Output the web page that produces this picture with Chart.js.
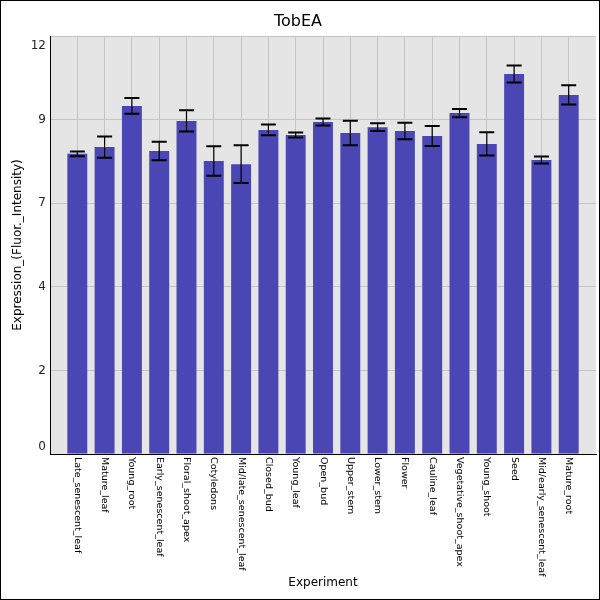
<!DOCTYPE html>
<html>
<head>
<meta charset="utf-8">
<script src="https://cdn.jsdelivr.net/npm/chart.js"></script>
<style>
  body { margin: 0; background: #fff; }
  #wrap { width: 600px; height: 600px; }
</style>
</head>
<body>
<div id="wrap"><canvas id="chartTob" width="600" height="600"></canvas></div>
<script>
// values
const categories = ['Late_senescent_leaf', 'Mature_leaf', 'Young_root', 'Early_senescent_leaf',
    'Floral_shoot_apex', 'Cotyledons', 'Mid/late_senescent_leaf', 'Closed_bud', 'Young_leaf',
    'Open_bud', 'Upper_stem', 'Lower_stem', 'Flower', 'Cauline_leaf', 'Vegetative_shoot_apex',
    'Young_shoot', 'Seed', 'Mid/early_senescent_leaf', 'Mature_root'];
const values = [8.76, 8.96, 10.16, 8.84, 9.72, 8.55, 8.46, 9.46, 9.31, 9.69,
    9.37, 9.54, 9.43, 9.28, 9.95, 9.05, 11.09, 8.58, 10.48];
const errors = [0.07, 0.31, 0.23, 0.27, 0.31, 0.43, 0.55, 0.16, 0.07, 0.10,
    0.36, 0.11, 0.24, 0.29, 0.12, 0.34, 0.25, 0.10, 0.28];
const tickValues = [0, 2.44, 4.88, 7.32, 9.76, 12.2];
const tickLabels = ['0', '2', '4', '7', '9', '12'];

const FONT = '"DejaVu Sans", sans-serif';

// plot background + outer frame
const backdrop = {
    id: 'backdrop',
    beforeDraw(chart) {
        const ctx = chart.ctx, a = chart.chartArea;
        ctx.save();
        ctx.fillStyle = '#ffffff';
        ctx.fillRect(0, 0, chart.width, chart.height);
        ctx.fillStyle = '#e5e5e5';
        ctx.fillRect(a.left, a.top, a.right - a.left, a.bottom - a.top);
        ctx.restore();
    },
    afterDraw(chart) {
        const ctx = chart.ctx;
        ctx.save();
        ctx.strokeStyle = '#000';
        ctx.lineWidth = 1;
        ctx.strokeRect(0.5, 0.5, chart.width - 1, chart.height - 1);
        ctx.restore();
    }
};

const errorBars = {
    id: 'errorBars',
    afterDatasetsDraw(chart) {
        const ctx = chart.ctx, xs = chart.scales.x, ys = chart.scales.y;
        ctx.save();
        ctx.strokeStyle = '#000';
        values.forEach((v, i) => {
            const px = xs.getPixelForValue(i + 1);
            const hi = ys.getPixelForValue(v + errors[i]);
            const lo = ys.getPixelForValue(v - errors[i]);
            ctx.lineWidth = 1.2;
            ctx.beginPath();
            ctx.moveTo(px, hi);
            ctx.lineTo(px, lo);
            ctx.stroke();
            ctx.lineWidth = 2;
            ctx.beginPath();
            ctx.moveTo(px - 7.5, hi);
            ctx.lineTo(px + 7.5, hi);
            ctx.moveTo(px - 7.5, lo);
            ctx.lineTo(px + 7.5, lo);
            ctx.stroke();
        });
        ctx.restore();
    }
};

// tick labels: x rotated clockwise, y kept inside the plot height
const tickText = {
    id: 'tickText',
    afterDraw(chart) {
        const ctx = chart.ctx, xs = chart.scales.x, ys = chart.scales.y, a = chart.chartArea;
        ctx.save();
        ctx.fillStyle = '#000';
        ctx.font = '9.5px ' + FONT;
        ctx.textAlign = 'left';
        ctx.textBaseline = 'middle';
        categories.forEach((c, i) => {
            ctx.save();
            ctx.translate(xs.getPixelForValue(i + 1), a.bottom + 3);
            ctx.rotate(Math.PI / 2);
            ctx.fillText(c, 0, 0);
            ctx.restore();
        });
        ctx.fillStyle = '#222';
        ctx.font = '12px ' + FONT;
        ctx.textAlign = 'right';
        tickValues.forEach((v, i) => {
            let py = ys.getPixelForValue(v);
            py = Math.min(Math.max(py, a.top + 10), a.bottom - 7);
            ctx.fillText(tickLabels[i], a.left - 4, py);
        });
        ctx.restore();
    }
};

Chart.defaults.font.family = FONT;
Chart.defaults.color = '#222';

const ctxTob = document.getElementById('chartTob');
const chartTob = new Chart(ctxTob, {
    type: 'bar',
    data: {
        datasets: [{
            label: 'TobEA',
            data: values.map((v, i) => ({ x: i + 1, y: v })),
            backgroundColor: '#4a46b3',
            borderWidth: 0,
            barPercentage: 0.73,
            categoryPercentage: 1
        }]
    },
    plugins: [backdrop, errorBars, tickText],
    options: {
        responsive: false,
        animation: false,
        layout: { padding: { left: 0, right: 4, top: 0, bottom: 0 } },
        plugins: {
            legend: { display: false },
            tooltip: { enabled: false },
            title: {
                display: true,
                text: 'TobEA',
                color: '#000',
                font: { size: 16, weight: 'normal' },
                padding: { top: 12, bottom: 4.8 }
            }
        },
        scales: {
            x: {
                type: 'linear',
                min: 0,
                max: 20,
                offset: false,
                afterBuildTicks: (scale) => {
                    scale.ticks = categories.map((c, i) => ({ value: i + 1 }));
                },
                afterFit: (scale) => { scale.height = 146; },
                ticks: { display: false },
                grid: { color: '#c4c4c4', offset: false, drawTicks: false },
                border: { color: '#000', width: 1 },
                title: {
                    display: true,
                    text: 'Experiment',
                    color: '#000',
                    font: { size: 12 },
                    padding: { top: 4, bottom: 10 }
                }
            },
            y: {
                min: 0,
                max: 12.2,
                afterBuildTicks: (scale) => {
                    scale.ticks = tickValues.map(v => ({ value: v }));
                },
                afterFit: (scale) => { scale.width = 50; },
                ticks: { display: false },
                grid: { color: '#c4c4c4', drawTicks: false },
                border: { color: '#000', width: 1 },
                title: {
                    display: true,
                    text: 'Expression_(Fluor._Intensity)',
                    color: '#000',
                    font: { size: 12 },
                    padding: { top: 11, bottom: 4 }
                }
            }
        }
    }
});
</script>
</body>
</html>
